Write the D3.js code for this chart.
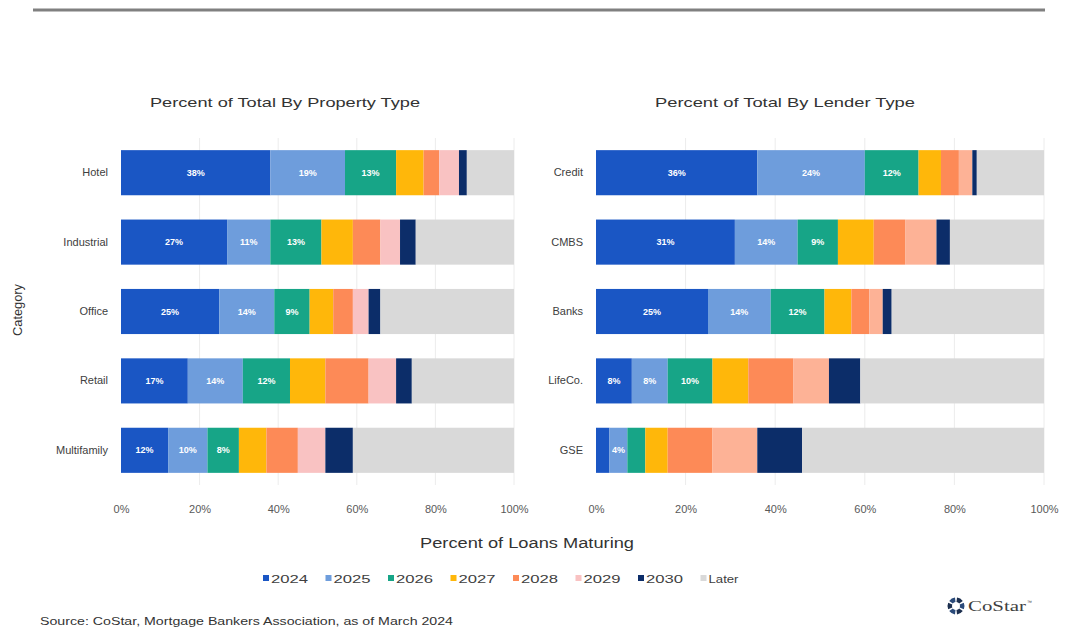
<!DOCTYPE html>
<html>
<head>
<meta charset="utf-8">
<script src="https://cdn.jsdelivr.net/npm/d3@7"></script>
<style>
  html, body { margin: 0; padding: 0; background: #fff; }
  svg { display: block; font-family: "Liberation Sans", Arial, sans-serif; }
</style>
</head>
<body>
<svg id="chart" width="1090" height="638"></svg>
<script>
// ---- data ----
const years = ["2024", "2025", "2026", "2027", "2028", "2029", "2030", "Later"];

const propertyTypes = ["Hotel", "Industrial", "Office", "Retail", "Multifamily"];
const propertyValues = {
  Hotel:       [38, 19, 13, 7, 4, 5, 2, 12],
  Industrial:  [27, 11, 13, 8, 7, 5, 4, 25],
  Office:      [25, 14, 9, 6, 5, 4, 3, 34],
  Retail:      [17, 14, 12, 9, 11, 7, 4, 26],
  Multifamily: [12, 10, 8, 7, 8, 7, 7, 41]
};

const lenderTypes = ["Credit", "CMBS", "Banks", "LifeCo.", "GSE"];
const lenderValues = {
  "Credit":  [36, 24, 12, 5, 4, 3, 1, 15],
  "CMBS":    [31, 14, 9, 8, 7, 7, 3, 21],
  "Banks":   [25, 14, 12, 6, 4, 3, 2, 34],
  "LifeCo.": [8, 8, 10, 8, 10, 8, 7, 41],
  "GSE":     [3, 4, 4, 5, 10, 10, 10, 54]
};

const xTicks = [0, 20, 40, 60, 80, 100];
const labeledYears = ["2024", "2025", "2026"];
const hiddenLabels = [["GSE", "2024"], ["GSE", "2026"]];

const panelTitles = ["Percent of Total By Property Type", "Percent of Total By Lender Type"];
const xAxisTitle = "Percent of Loans Maturing";
const yAxisTitle = "Category";
const sourceText = "Source: CoStar, Mortgage Bankers Association, as of March 2024";

// ---- styles ----
const colorsLeft  = ["#1a56c4", "#6e9ddc", "#17a587", "#ffb70a", "#fd8a57", "#f9c2c2", "#0c2d69", "#d9d9d9"];
const colorsRight = ["#1a56c4", "#6e9ddc", "#17a587", "#ffb70a", "#fd8a57", "#fdb296", "#0c2d69", "#d9d9d9"];

const svg = d3.select("#chart");

// top rule
svg.append("line").attr("x1", 33).attr("x2", 1045).attr("y1", 10).attr("y2", 10)
  .attr("stroke", "#808080").attr("stroke-width", 3);

function drawPanel(cats, valuesObj, x0, x1, title, colors, titleCx, titleW) {
  const x = d3.scaleLinear().domain([0, 100]).range([x0, x1]);
  const y = d3.scaleBand().domain(cats).range([138, 485]).paddingInner(0.35).paddingOuter(0.175);
  const g = svg.append("g");

  // gridlines
  g.selectAll("line.grid").data(xTicks.filter(t => t > 0)).join("line")
    .attr("x1", d => x(d)).attr("x2", d => x(d))
    .attr("y1", 138).attr("y2", 485)
    .attr("stroke", "#ececec").attr("stroke-width", 1);

  // stacks
  const rows = cats.map(c => {
    const o = { cat: c };
    years.forEach((yr, i) => o[yr] = valuesObj[c][i]);
    return o;
  });
  const stack = d3.stack().keys(years)(rows);

  const layers = g.selectAll("g.layer").data(stack).join("g")
    .attr("fill", (d, i) => colors[i]);
  layers.selectAll("rect").data(d => d.map(p => ({ p, key: d.key }))).join("rect")
    .attr("x", d => x(d.p[0]))
    .attr("width", d => x(d.p[1]) - x(d.p[0]))
    .attr("y", d => y(d.p.data.cat))
    .attr("height", y.bandwidth());

  // labels
  stack.filter(s => labeledYears.includes(s.key)).forEach(s => {
    s.forEach(p => {
      const cat = p.data.cat;
      if (hiddenLabels.some(h => h[0] === cat && h[1] === s.key)) return;
      g.append("text")
        .attr("x", x((p[0] + p[1]) / 2))
        .attr("y", y(cat) + y.bandwidth() / 2)
        .attr("dy", "0.35em")
        .attr("text-anchor", "middle")
        .attr("fill", "#ffffff")
        .attr("font-size", 9)
        .attr("font-weight", "bold")
        .text(Math.round(p[1] - p[0]) + "%");
    });
  });

  // y axis labels
  const yAxis = d3.axisLeft(y).tickSize(0).tickPadding(13);
  const ya = g.append("g").attr("transform", `translate(${x0},0)`).call(yAxis);
  ya.select(".domain").remove();
  ya.selectAll("text").attr("font-size", 11).attr("fill", "#404040")
    .attr("font-family", "Liberation Sans, Arial, sans-serif");

  // x axis
  const xAxis = d3.axisBottom(x).tickValues(xTicks).tickFormat(d => d + "%").tickSize(0).tickPadding(8);
  const xa = g.append("g").attr("transform", "translate(0,497)").call(xAxis);
  xa.select(".domain").remove();
  xa.selectAll("text").attr("font-size", 11).attr("fill", "#595959")
    .attr("font-family", "Liberation Sans, Arial, sans-serif");

  // title
  g.append("text").attr("x", titleCx - titleW / 2)
    .attr("y", 107)
    .attr("textLength", titleW).attr("lengthAdjust", "spacingAndGlyphs")
    .attr("font-size", 13).attr("fill", "#333333").text(title);
}

drawPanel(propertyTypes, propertyValues, 121, 514, panelTitles[0], colorsLeft, 285, 270);
drawPanel(lenderTypes, lenderValues, 596, 1044, panelTitles[1], colorsRight, 785, 260);

// axis titles
svg.append("text").attr("x", 420).attr("y", 548)
  .attr("textLength", 214).attr("lengthAdjust", "spacingAndGlyphs")
  .attr("font-size", 14).attr("fill", "#333333").text(xAxisTitle);
svg.append("text").attr("transform", "translate(22,336) rotate(-90)")
  .attr("textLength", 52).attr("lengthAdjust", "spacingAndGlyphs")
  .attr("font-size", 13).attr("fill", "#333333").text(yAxisTitle);

// legend
const legend = svg.append("g");
years.forEach((yr, i) => {
  const lx = 263 + i * 62.5;
  legend.append("rect").attr("x", lx).attr("y", 575).attr("width", 6).attr("height", 6)
    .attr("fill", colorsLeft[i]);
  legend.append("text").attr("x", lx + 8).attr("y", 582.5)
    .attr("textLength", yr === "Later" ? 30 : 37).attr("lengthAdjust", "spacingAndGlyphs")
    .attr("font-size", 11.5).attr("fill", "#404040").text(yr);
});

// source
svg.append("text").attr("x", 40).attr("y", 625)
  .attr("textLength", 413).attr("lengthAdjust", "spacingAndGlyphs")
  .attr("font-size", 10.5).attr("fill", "#333333")
  .text(sourceText);

// CoStar logo
const logo = svg.append("g").attr("transform", "translate(956,606)");
d3.range(6).forEach(i => {
  const a0 = i * Math.PI / 3 + 0.12, a1 = (i + 1) * Math.PI / 3 - 0.12;
  logo.append("path").attr("d", d3.arc()({ innerRadius: 4, outerRadius: 8.5, startAngle: a0, endAngle: a1 }))
    .attr("fill", i % 2 ? "#2a4a7a" : "#1c2f4f");
});
svg.append("text").attr("x", 968).attr("y", 611).attr("font-family", "Liberation Serif, serif")
  .attr("textLength", 58).attr("lengthAdjust", "spacingAndGlyphs")
  .attr("font-size", 14).attr("fill", "#404040").text("CoStar");
svg.append("text").attr("x", 1027).attr("y", 604).attr("font-size", 5).attr("fill", "#404040").text("™");
</script>
</body>
</html>
